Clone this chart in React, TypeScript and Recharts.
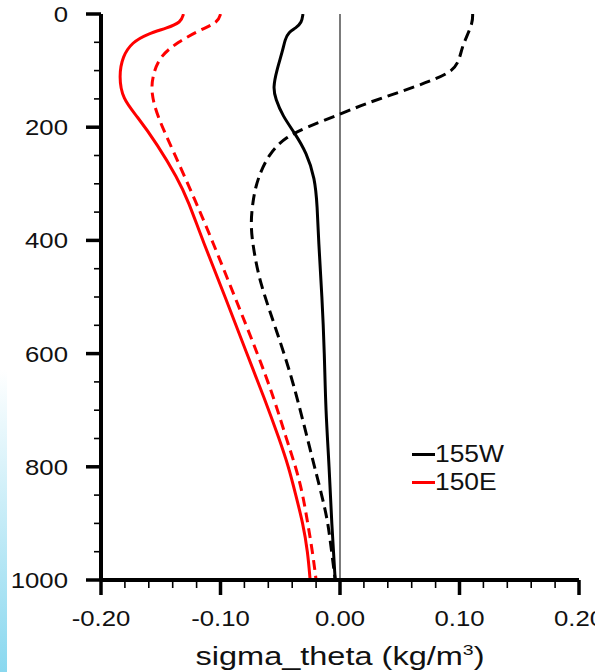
import { LineChart, Line, XAxis, YAxis, ReferenceLine } from "recharts";

// depth (m) of each reading, then sigma_theta anomaly (kg/m3) at that depth
const w155SolidDepth = [0, 15, 25, 32, 45, 65, 100, 130, 150, 180, 210, 245, 290, 340, 400, 500, 600, 700, 800, 900, 1000];
const w155SolidSigma = [-0.031, -0.032, -0.037, -0.043, -0.046, -0.048, -0.053, -0.056, -0.054, -0.048, -0.038, -0.028, -0.021, -0.019, -0.018, -0.015, -0.013, -0.012, -0.009, -0.007, -0.004];

const w155DashDepth = [0, 15, 40, 60, 80, 100, 117, 138, 157, 177, 200, 217, 245, 290, 330, 375, 420, 475, 560, 650, 770, 860, 900, 950, 1000];
const w155DashSigma = [0.111, 0.111, 0.106, 0.102, 0.1, 0.095, 0.078, 0.05, 0.023, 0.0, -0.028, -0.045, -0.059, -0.069, -0.073, -0.075, -0.072, -0.067, -0.053, -0.039, -0.025, -0.014, -0.01, -0.007, -0.004];

const e150SolidDepth = [0, 15, 25, 35, 50, 75, 110, 150, 180, 230, 290, 330, 400, 500, 600, 680, 750, 800, 850, 900, 950, 1000];
const e150SolidSigma = [-0.131, -0.133, -0.145, -0.161, -0.174, -0.182, -0.185, -0.182, -0.17, -0.153, -0.136, -0.127, -0.115, -0.096, -0.078, -0.063, -0.051, -0.043, -0.037, -0.031, -0.027, -0.025];

const e150DashDepth = [0, 15, 28, 50, 75, 110, 140, 180, 240, 330, 400, 500, 600, 680, 750, 800, 850, 900, 950, 1000];
const e150DashSigma = [-0.1, -0.102, -0.117, -0.136, -0.151, -0.157, -0.158, -0.153, -0.14, -0.121, -0.107, -0.088, -0.069, -0.055, -0.045, -0.037, -0.031, -0.027, -0.023, -0.02];

const depthTicks = [0, 50, 100, 150, 200, 250, 300, 350, 400, 450, 500, 550, 600, 650, 700, 750, 800, 850, 900, 950, 1000];
const sigmaTicks = [-0.2, -0.18, -0.16, -0.14, -0.12, -0.1, -0.08, -0.06, -0.04, -0.02, 0, 0.02, 0.04, 0.06, 0.08, 0.1, 0.12, 0.14, 0.16, 0.18, 0.2];

const legendItems = [
  { name: "155W", color: "#000000" },
  { name: "150E", color: "#ff0000" },
];

const toRows = (depths: number[], values: number[]) => depths.map((d, i) => ({ depth: d, sigma: values[i] }));

const FONT = "'Liberation Sans', Arial, Helvetica, sans-serif";

function LeftTick({ x, y, payload }: any) {
  const v = payload.value;
  const major = v % 200 === 0;
  return (
    <g>
      <line x1={x - (major ? 15 : 7)} x2={x} y1={y} y2={y} stroke="#000" strokeWidth={major ? 3.5 : 1.6} />
      {major && (
        <text transform={`translate(${x - 33},${y}) scale(1.17,1)`} textAnchor="end" dy="0.36em" fontSize={22} fontFamily={FONT} fill="#111">
          {v}
        </text>
      )}
    </g>
  );
}

function RightTick({ x, y, payload }: any) {
  const major = payload.value % 200 === 0;
  return <line x1={x} x2={x + (major ? 16 : 8)} y1={y} y2={y} stroke="#000" strokeWidth={major ? 3.5 : 1.6} />;
}

function BottomTick({ x, y, payload }: any) {
  const v = payload.value;
  const major = Math.abs(Math.round(v * 100)) % 10 === 0;
  return (
    <g>
      <line x1={x} x2={x} y1={y} y2={y + (major ? 15 : 8)} stroke="#000" strokeWidth={major ? 3.5 : 1.6} />
      {major && (
        <text transform={`translate(${x},${y + 46}) scale(1.17,1)`} textAnchor="middle" fontSize={22} fontFamily={FONT} fill="#111">
          {v.toFixed(2)}
        </text>
      )}
    </g>
  );
}

export default function App() {
  return (
    <div style={{ position: "absolute", left: 0, top: 0, width: 595, height: 672, background: "#fff", overflow: "hidden" }}>
      <div
        style={{
          position: "absolute",
          left: 0,
          top: 370,
          width: 7,
          height: 302,
          background: "linear-gradient(to bottom, #ffffff, #8ad8ef)",
        }}
      />
      <LineChart width={595} height={672} layout="vertical" margin={{ top: 14, right: 16, bottom: 0, left: 0 }}>
        <YAxis yAxisId="right" orientation="right" type="number" domain={[0, 1000]} ticks={depthTicks}
          interval={0} width={0} tickSize={0} tickMargin={0} tick={<RightTick />} tickLine={false}
          axisLine={{ stroke: "#000", strokeWidth: 4 }} allowDataOverflow />
        <XAxis xAxisId="top" orientation="top" type="number" domain={[-0.2, 0.2]} height={0} tick={false}
          tickLine={false} axisLine={{ stroke: "#000", strokeWidth: 4 }} allowDataOverflow />
        <YAxis dataKey="depth" type="number" domain={[0, 1000]} ticks={depthTicks} interval={0}
          width={101} tickSize={0} tickMargin={0} tickLine={false} tick={<LeftTick />}
          axisLine={{ stroke: "#000", strokeWidth: 4 }} allowDataOverflow />
        <XAxis type="number" domain={[-0.2, 0.2]} ticks={sigmaTicks} interval={0} height={92} tickSize={0}
          tickMargin={0} tickLine={false} tick={<BottomTick />} axisLine={{ stroke: "#000", strokeWidth: 4 }}
          allowDataOverflow
          label={{
            content: () => (
              <text transform="translate(340,665) scale(1.3,1)" textAnchor="middle" fontSize={25} fontFamily={FONT} fill="#111">
                sigma_theta (kg/m
                <tspan dy={-10} fontSize={15}>3</tspan>
                <tspan dy={10}>)</tspan>
              </text>
            ),
          }}
        />
        <ReferenceLine x={0} stroke="#333" strokeWidth={1.3} />
        <Line data={toRows(w155DashDepth, w155DashSigma)} dataKey="sigma" name="155W dashed" type="basis"
          stroke="#000" strokeWidth={3} strokeDasharray="11 6" dot={false} isAnimationActive={false} />
        <Line data={toRows(w155SolidDepth, w155SolidSigma)} dataKey="sigma" name="155W" type="basis"
          stroke="#000" strokeWidth={3} dot={false} isAnimationActive={false} />
        <Line data={toRows(e150DashDepth, e150DashSigma)} dataKey="sigma" name="150E dashed" type="basis"
          stroke="#ff0000" strokeWidth={3} strokeDasharray="10 6" dot={false} isAnimationActive={false} />
        <Line data={toRows(e150SolidDepth, e150SolidSigma)} dataKey="sigma" name="150E" type="basis"
          stroke="#ff0000" strokeWidth={3} dot={false} isAnimationActive={false} />
      </LineChart>
      <div style={{ position: "absolute", left: 412, top: 440, fontFamily: FONT, fontSize: 24, color: "#111" }}>
        {legendItems.map((item) => (
          <div key={item.name} style={{ display: "flex", alignItems: "center", height: 28 }}>
            <span style={{ display: "inline-block", width: 23, height: 3, background: item.color }} />
            <span style={{ display: "inline-block", transform: "scale(1.1,1)", transformOrigin: "left center", lineHeight: "28px" }}>
              {item.name}
            </span>
          </div>
        ))}
      </div>
    </div>
  );
}
